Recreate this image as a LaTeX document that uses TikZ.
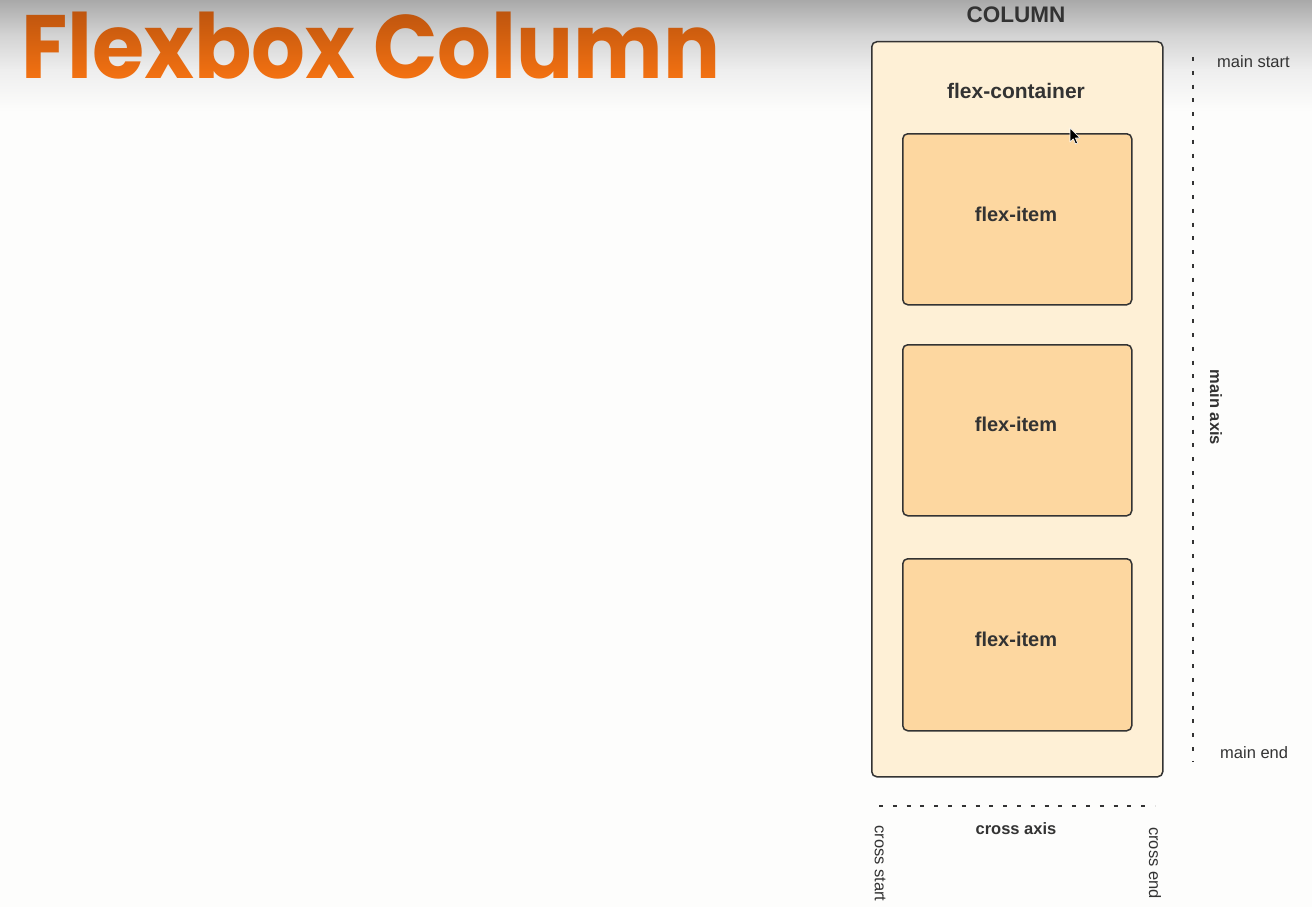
\documentclass[tikz,border=0pt]{standalone}
\usepackage{fontspec}
\setmainfont{Liberation Sans}
\newfontfamily\poppins{Poppins}
\usetikzlibrary{fadings}

\definecolor{ink}{HTML}{333333}
\definecolor{creamfill}{HTML}{FEF0D6}
\definecolor{itemfill}{HTML}{FDD7A0}
\definecolor{pagebg}{HTML}{FDFDFC}
\definecolor{bandA}{HTML}{A9A9A9}
\definecolor{bandB}{HTML}{D3D3D3}
\definecolor{bandC}{HTML}{EEEEEE}
\definecolor{titletop}{HTML}{BE550E}
\definecolor{titlebottom}{HTML}{F47212}

\newcommand{\titletext}{\scalebox{0.94}[1]{Flexbox Column}}
\newcommand{\titlefont}{\poppins\bfseries\fontsize{90}{90}\selectfont}

% mask for the gradient-filled heading
\begin{tikzfadingfrompicture}[name=titlemask]
  \node[text=transparent!0, inner sep=0pt, font=\titlefont] {\titletext};
\end{tikzfadingfrompicture}

\begin{document}
\begin{tikzpicture}[x=1pt, y=-1pt,
  box/.style={draw=ink, line width=1.5pt, rounded corners=5pt, inner sep=0pt, anchor=north west},
  lbl/.style={text=ink, inner sep=0pt, font=\fontsize{16.5}{18}\selectfont},
  blbl/.style={text=ink, inner sep=0pt, font=\bfseries\fontsize{16.5}{18}\selectfont},
  itemlbl/.style={text=ink, inner sep=0pt, anchor=base, font=\bfseries\fontsize{20}{22}\selectfont},
  axisline/.style={draw=ink, line width=2.1pt, dash pattern=on 4pt off 9.8pt}]

  % page and the grey band along the top edge
  \useasboundingbox (0,0) rectangle (1312,907);
  \fill[pagebg] (0,0) rectangle (1312,907);
  \shade[top color=bandA, bottom color=bandB] (0,0) rectangle (1312,35);
  \shade[top color=bandB, bottom color=bandC] (0,35) rectangle (1312,70);
  \shade[top color=bandC, bottom color=pagebg] (0,70) rectangle (1312,112);

  % heading with an orange gradient
  \node[inner sep=0pt, anchor=base west, font=\titlefont] (title) at (21,78) {\phantom{\titletext}};
  \shade[path fading=titlemask, fit fading=false, fading transform={shift={(title.center)}},
         top color=titletop, bottom color=titlebottom]
    (title.south west) rectangle (title.north east);

  % container and its items
  \node[blbl, anchor=base, font=\bfseries\fontsize{22.5}{24}\selectfont] (coltitle) at (1016,23) {COLUMN};
  \node[box, fill=creamfill, minimum width=291pt, minimum height=735pt] (container) at (871,41) {};
  \node[itemlbl, font=\bfseries\fontsize{21}{23}\selectfont] (containerlbl) at (1016,98) {flex-container};

  \node[box, fill=itemfill, minimum width=229pt, minimum height=171pt] (item1) at (902,133) {};
  \node[box, fill=itemfill, minimum width=229pt, minimum height=171pt] (item2) at (902,344) {};
  \node[box, fill=itemfill, minimum width=229pt, minimum height=172pt] (item3) at (902,558) {};
  \node[itemlbl] (item1lbl) at (1016,221) {flex-item};
  \node[itemlbl] (item2lbl) at (1016,431) {flex-item};
  \node[itemlbl] (item3lbl) at (1016,646) {flex-item};

  % main axis
  \coordinate (mainstart) at (1193,57);
  \coordinate (mainend) at (1193,762);
  \draw[axisline] (mainstart) -- (mainend);
  \node[lbl, anchor=base west] (mainstartlbl) at (1217,68) {main start};
  \node[lbl, anchor=base west] (mainendlbl) at (1220,758) {main end};
  \node[blbl, rotate=-90] (mainaxislbl) at (1216,407.5) {main axis};

  % cross axis
  \coordinate (crossstart) at (879,806);
  \coordinate (crossend) at (1155,806);
  \draw[axisline] (crossstart) -- (crossend);
  \node[blbl, anchor=base] (crossaxislbl) at (1016,834) {cross axis};
  \node[lbl, rotate=-90] (crossstartlbl) at (880,863.5) {cross start};
  \node[lbl, rotate=-90] (crossendlbl) at (1155,863) {cross end};

  % mouse pointer
  \filldraw[fill=black, draw=white, line width=0.6pt, line join=round]
    (1070,128) -- (1070,142) -- (1073.3,138.8) -- (1075.6,144) -- (1077.6,143.1) -- (1075.4,138) -- (1080,138) -- cycle;
\end{tikzpicture}
\end{document}
